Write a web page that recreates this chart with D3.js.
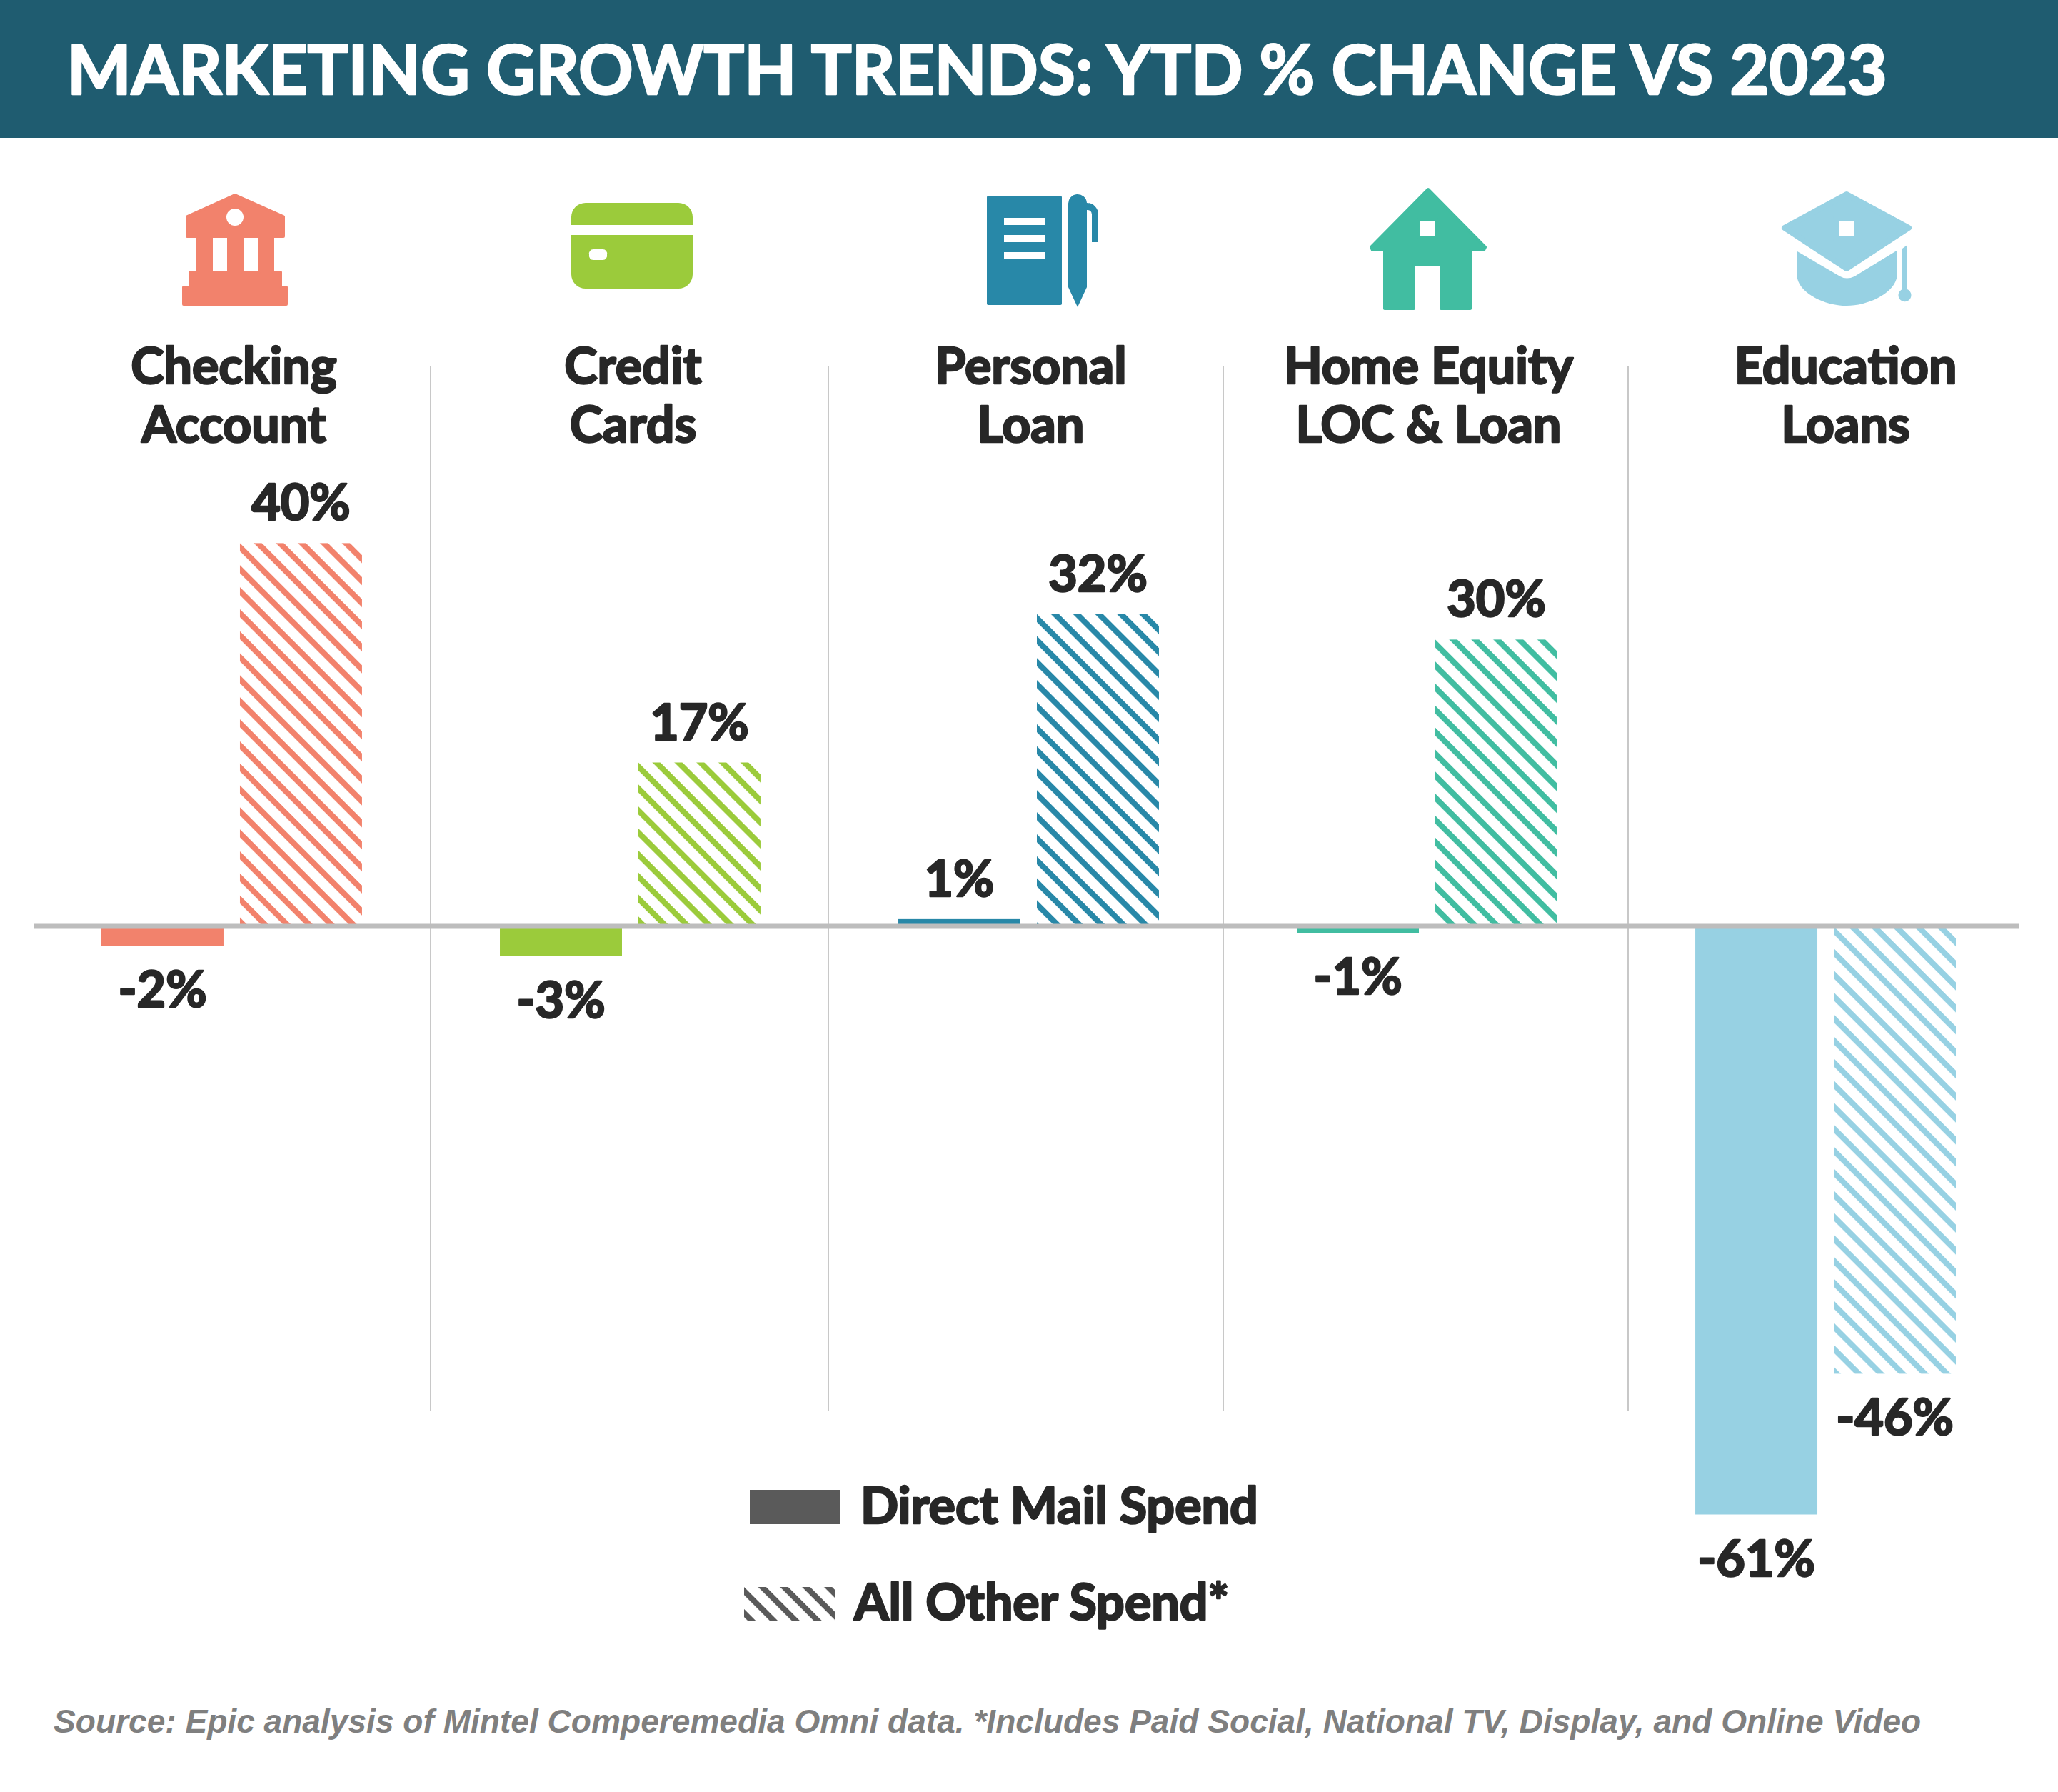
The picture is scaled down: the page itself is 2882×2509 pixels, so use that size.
<!DOCTYPE html>
<html>
  <head>
    <meta http-equiv="Content-Type" content="text/html;charset=utf-8">
    <title>Marketing growth trends</title>
    <script src="https://d3js.org/d3.v7.min.js"></script>
    <style>
      html, body { margin: 0; padding: 0; background: #fff; }
      svg { display: block; }
      text { font-family: Lato, sans-serif; font-weight: 700; fill: #272727; stroke: #272727; stroke-width: 2.6px; stroke-linejoin: round; }
    </style>
  </head>
  <body>
  <script type="text/javascript">

var categories = ["Checking Account", "Credit Cards", "Personal Loan", "Home Equity LOC & Loan", "Education Loans"];
var labelLines = [["Checking", "Account"], ["Credit", "Cards"], ["Personal", "Loan"], ["Home Equity", "LOC & Loan"], ["Education", "Loans"]];
var seriesNames = ["Direct Mail Spend", "All Other Spend*"];
// the printed labels are these rounded
var directMail = [-2, -3.1, 0.75, -0.7, -61];
var otherSpend = [39.75, 17, 32.4, 29.75, -46.4];
var colors = ["#f2826c", "#9bcb3b", "#2888a8", "#41bda1", "#97d1e3"];

var width = 2882, height = 2509;

var svg = d3.select("body").append("svg").attr("width", width).attr("height", height);
var defs = svg.append("defs");

var x = d3.scaleBand().domain(categories).range([142, 2739]).paddingInner(0.346);
var x1 = d3.scaleBand().domain(seriesNames).range([0, x.bandwidth()]).paddingInner(0.1186);
var y = d3.scaleLinear().domain([0, 40]).range([1297, 757]);

// stripe fill, restarted at each bar's corner
function hatch(id, color, px, py) {
  var p = defs.append("pattern").attr("id", id)
    .attr("patternUnits", "userSpaceOnUse")
    .attr("width", 21.8).attr("height", 21.8)
    .attr("patternTransform", "translate(" + px + " " + py + ") rotate(45)");
  p.append("rect").attr("width", 21.8).attr("height", 8).attr("fill", color);
  return "url(#" + id + ")";
}

// header
svg.append("rect").attr("width", width).attr("height", 193).attr("fill", "#1f5c70");
svg.append("text").attr("x", 94).attr("y", 132)
  .style("font-size", "95px").style("fill", "#fff").style("stroke", "#fff")
  .text("MARKETING GROWTH TRENDS: YTD % CHANGE VS 2023");

// column separators
svg.selectAll(".sep").data([603, 1160, 1713, 2280]).enter().append("line")
  .attr("x1", function(d) { return d; }).attr("x2", function(d) { return d; })
  .attr("y1", 512).attr("y2", 1976)
  .attr("stroke", "#c8c8c8").attr("stroke-width", 2);

// icons, the round-joined stroke softens the corners
var iconLayer = svg.append("g");
function shape(d, color, round) {
  iconLayer.append("path").attr("d", d).attr("fill", color).attr("fill-rule", "evenodd")
    .attr("stroke", color).attr("stroke-width", round || 0).attr("stroke-linejoin", "round");
}

shape("M329 273L262 303.3V331H277V381H266V402H257V426H401V402H393V381H382V331H397V303.3Z" +
  "M296 331H320V381H296Z M339 331H363V381H339Z" +
  "M343 304a14 14 0 1 1 -28 0a14 14 0 1 1 28 0Z", colors[0], 4);
shape("M800 315V304a20 20 0 0 1 20 -20H950a20 20 0 0 1 20 20V315Z" +
  "M800 329H970V384a20 20 0 0 1 -20 20H820a20 20 0 0 1 -20 -20Z" +
  "M831 349a6 6 0 0 0 -6 7.5a6 6 0 0 0 6 7.5H844a6 6 0 0 0 6 -7.5a6 6 0 0 0 -6 -7.5Z", colors[1]);
shape("M1384 276H1485V425H1384Z M1404 303V317H1466V303Z M1404 327V341H1466V327Z M1404 351V365H1466V351Z", colors[2], 4);
shape("M1496 286a13 13 0 0 1 26 -2a16 16 0 0 1 16 16V339H1529V300a6 6 0 0 0 -7 -6V402L1509 430L1496 402Z", colors[2]);
shape("M2000 265L1920 346L1922 350H1939V432H1980V371H2018V432H2059V350H2078L2080 346Z M1987 307V333H2012V307Z", colors[3], 4);
// cap: top board, lower part, tassel
shape("M2586 272L2673 319L2586 376L2499 319Z M2571 306V334H2601V306Z", colors[4], 8);
shape("M2517 352L2577 387Q2586 392 2597 387L2656 351V390C2650 412 2615 428 2586 428C2557 428 2522 412 2517 390Z", colors[4]);
shape("M2664 348L2671 343V405a9 9 0 1 1 -7 0Z", colors[4]);

// category labels
var labelOffset = [3, 4, 3, 2, 28];
categories.forEach(function(c, i) {
  var cx = x(c) + x.bandwidth() / 2 + labelOffset[i];
  svg.selectAll(null).data(labelLines[i]).enter().append("text")
    .attr("x", cx)
    .attr("y", function(d, j) { return 537 + j * 82; })
    .attr("text-anchor", "middle")
    .style("font-size", "70px")
    .text(function(d) { return d; });
});

// bars
function drawBars(values, name, hatched) {
  var g = svg.append("g");
  g.selectAll("rect").data(values).enter().append("rect")
    .attr("x", function(d, i) { return x(categories[i]) + x1(name); })
    .attr("y", function(d) { return Math.min(y(d), y(0)); })
    .attr("width", x1.bandwidth())
    .attr("height", function(d) { return Math.abs(y(d) - y(0)); })
    .attr("fill", function(d, i) {
      if (!hatched) return colors[i];
      return hatch("h" + i, colors[i], x(categories[i]) + x1(name), Math.min(y(d), y(0)));
    });
  g.selectAll("text").data(values).enter().append("text")
    .attr("x", function(d, i) { return x(categories[i]) + x1(name) + x1.bandwidth() / 2; })
    .attr("y", function(d) { return d < 0 ? y(d) + 86 : y(d) - 32; })
    .attr("text-anchor", "middle")
    .style("font-size", "70px")
    .text(function(d) { return Math.round(d) + "%"; });
}
drawBars(directMail, seriesNames[0], false);
drawBars(otherSpend, seriesNames[1], true);

// zero line
svg.append("line").attr("x1", 48).attr("x2", 2827).attr("y1", y(0)).attr("y2", y(0))
  .attr("stroke", "#bdbdbd").attr("stroke-width", 7);

// legend
svg.append("rect").attr("x", 1050).attr("y", 2086).attr("width", 126).attr("height", 48).attr("fill", "#5a5a5a");
svg.append("rect").attr("x", 1042).attr("y", 2222).attr("width", 128).attr("height", 48)
  .attr("fill", hatch("hLegend", "#5a5a5a", 1042, 2222));
svg.append("text").attr("x", 1205).attr("y", 2133).style("font-size", "70px").text(seriesNames[0]);
svg.append("text").attr("x", 1196).attr("y", 2268).style("font-size", "70px").text(seriesNames[1]);

// source note
svg.append("text").attr("x", 75).attr("y", 2426)
  .style("font-family", "'Liberation Sans', Arial, sans-serif")
  .style("font-style", "italic")
  .style("font-size", "46.1px").style("fill", "#7f7f7f").style("stroke", "none")
  .text("Source: Epic analysis of Mintel Comperemedia Omni data. *Includes Paid Social, National TV, Display, and Online Video");

  </script>
  </body>
</html>
